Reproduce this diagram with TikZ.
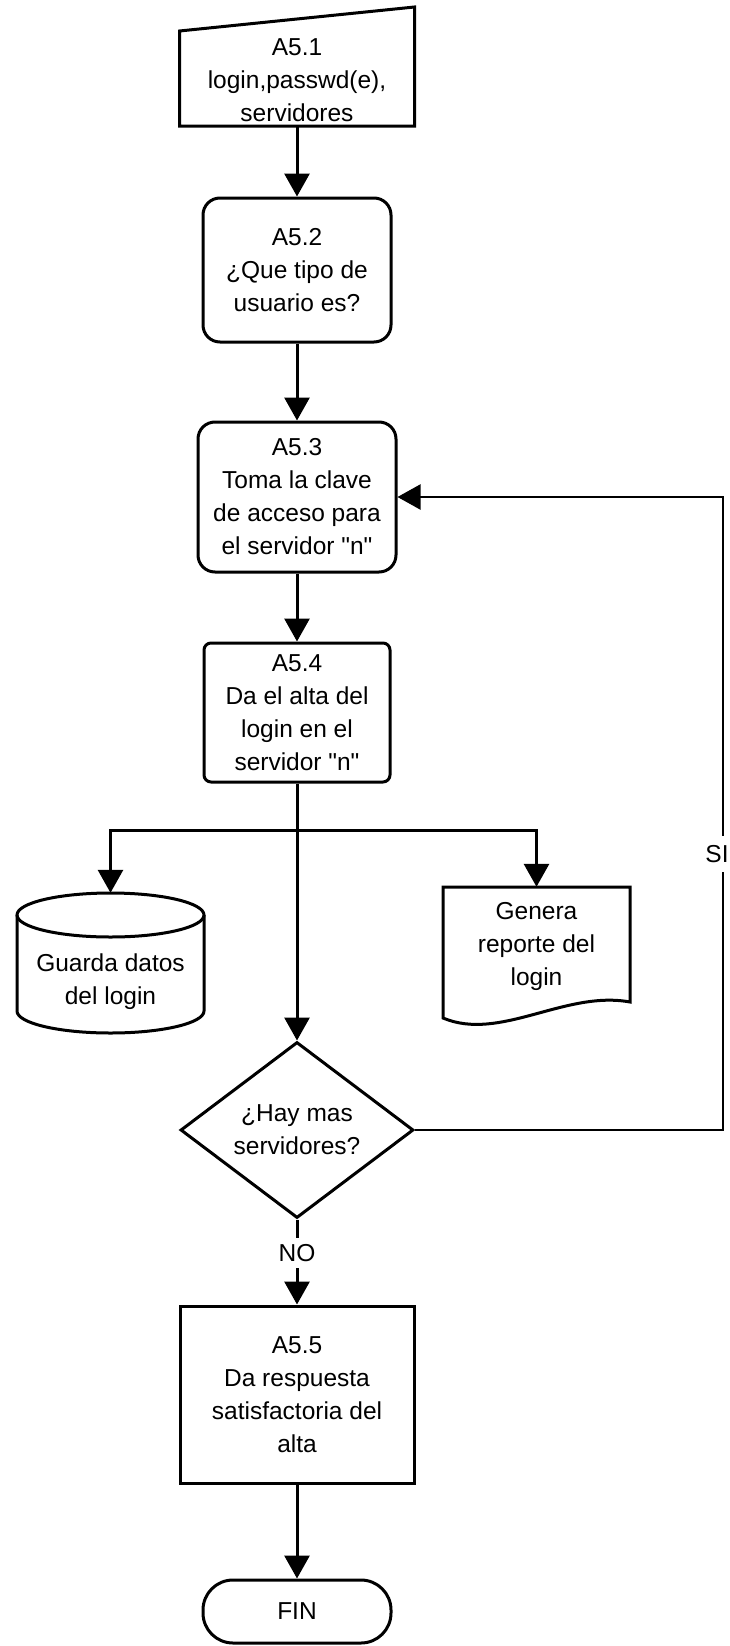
\documentclass[tikz,border=0pt]{standalone}
\usepackage{fontspec}
\setmainfont{Liberation Sans}[Ligatures=TeXOff]
\usetikzlibrary{arrows.meta,shapes.geometric,calc}
\begin{document}
\begin{tikzpicture}[x=1pt,y=-1pt,
  every node/.style={font=\fontsize{24.5}{33}\selectfont, align=center, inner sep=0pt},
  shp/.style={draw=black, line width=3pt, line join=miter},
  box/.style={shp, rectangle, fill=white},
  holder/.style={rectangle, draw=none},
  flow/.style={line width=3pt, -{Triangle[width=25pt,length=23pt]}},
  loopline/.style={line width=2.2pt, -{Triangle[width=25pt,length=23pt]}},
  lbl/.style={fill=white, inner xsep=2pt},
]
\useasboundingbox (0,0) rectangle (730,1646);

% --- process steps ---
\node[holder, minimum width=235pt, minimum height=92pt] (in) at (297,80)
  {A5.1\\login,passwd(e),\\servidores};
\draw[shp] (179.5,126) -- (179.5,31) -- (414.5,7) -- (414.5,126) -- cycle;

\node[box, rounded corners=17pt, minimum width=188pt, minimum height=144pt] (q) at (297,270)
  {A5.2\\¿Que tipo de\\usuario es?};

\node[box, rounded corners=17pt, minimum width=198pt, minimum height=150pt] (t) at (297,497)
  {A5.3\\Toma la clave\\de acceso para\\el servidor "n"};

\node[box, rounded corners=7pt, minimum width=186pt, minimum height=139pt] (d) at (297,712.5)
  {A5.4\\Da el alta del\\login en el\\servidor "n"};

% --- data store (cylinder) ---
\node[holder, minimum width=187pt, minimum height=177pt] (cyl) at (110.5,981.5)
  {Guarda datos\\del login};
\draw[shp] (17,915) -- (17,1011)
  .. controls (17,1023.15) and (58.86,1033) .. (110.5,1033)
  .. controls (162.14,1033) and (204,1023.15) .. (204,1011) -- (204,915);
\draw[shp] (110.5,915) ellipse [x radius=93.5pt, y radius=22pt];

% --- report (document) ---
\node[holder, minimum width=187pt, minimum height=118pt] (doc) at (536.5,946)
  {Genera\\reporte del\\login};
\draw[shp] (443,1018) -- (443,887) -- (630,887) -- (630,1002)
  .. controls (565,990) and (500,1042) .. (443,1018) -- cycle;

% --- decision ---
\node[shp, diamond, aspect=1.32, minimum width=233pt, minimum height=176pt] (dec) at (297,1130)
  {¿Hay mas\\servidores?};

\node[box, minimum width=234pt, minimum height=177pt] (r) at (297,1394.5)
  {A5.5\\Da respuesta\\satisfactoria del\\alta};

\node[box, rounded corners=30pt, minimum width=188pt, minimum height=63pt] (fin) at (297,1611.5)
  {FIN};

% --- connectors ---
\draw[flow] (in.south) -- (q.north);
\draw[flow] (q.south) -- (t.north);
\draw[flow] (t.south) -- (d.north);
\draw[flow] (d.south) -- (dec.north);

\coordinate (split) at (297,830);
\draw[flow] (split) -| (cyl.north);
\draw[flow] (split) -| (doc.north);

\coordinate (lb) at (723,1130);
\coordinate (lt) at (723,497);
\draw[loopline] (dec.east) -- (lb) -- (lt) -- (t.east);
\node[lbl, inner ysep=9pt] (si) at (717,854) {SI};

\draw[flow] (dec.south) -- (r.north);
\node[lbl, inner ysep=6.5pt] (no) at (297,1253) {NO};

\draw[flow] (r.south) -- (fin.north);
\end{tikzpicture}
\end{document}
